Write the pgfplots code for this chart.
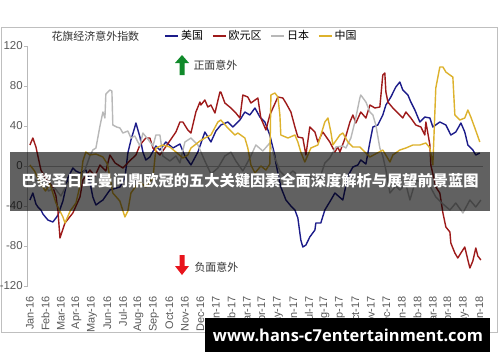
\documentclass[border=0pt]{standalone}
\usepackage{fontspec}
\setmainfont{Liberation Sans}
\newfontfamily\cjk{Noto Sans CJK SC}
\newfontfamily\webfont{Open Sans}
\usepackage{pgfplots}
\pgfplotsset{compat=1.18}
\definecolor{usc}{HTML}{1C1C8A}
\definecolor{euc}{HTML}{9E1A1A}
\definecolor{jpc}{HTML}{B8B8B8}
\definecolor{cnc}{HTML}{DDB22C}
\definecolor{lab}{HTML}{595959}
\definecolor{upg}{HTML}{108A2A}
\definecolor{dnr}{HTML}{E8141C}
\begin{document}
\begin{tikzpicture}[x=1bp,y=1bp]
\path[use as bounding box, fill=white] (0,0) rectangle (500,362);
\draw[gray!50, line width=1bp] (1,30) rectangle (497,335);
\begin{axis}[at={(18,76)}, anchor=south west, scale only axis,
  width=455bp, height=240bp,
  xmin=-0.13, xmax=29.23, ymin=-120, ymax=120,
  axis lines*=left,
  x axis line style={draw=none},
  y axis line style={gray!55, line width=0.8bp},
  ytick={-120,-80,-40,0,40,80,120},
  yticklabels={-120,-80,-40,0,40,80,120},
  yticklabel style={font=\fontsize{11.5}{12}\selectfont, text=lab, inner sep=1bp},
  ytick style={gray!55, line width=0.8bp},
  tick align=outside, major tick length=4bp,
  xtick={0,...,29},
  xticklabels={Jan-16,Feb-16,Mar-16,Apr-16,May-16,Jun-16,Jul-16,Aug-16,Sep-16,Oct-16,Nov-16,Dec-16,Jan-17,Feb-17,Mar-17,Apr-17,May-17,Jun-17,Jul-17,Aug-17,Sep-17,Oct-17,Nov-17,Dec-17,Jan-18,Feb-18,Mar-18,Apr-18,May-18,Jun-18},
  xticklabel style={rotate=90, anchor=east, font=\fontsize{11}{12}\selectfont, text=lab, inner sep=0bp},
  xticklabel shift={6bp},
  x tick style={draw=none},
  legend style={at={(0.30,1.042)}, anchor=west, draw=none, fill=none,
    font=\cjk\fontsize{11}{12}\selectfont, inner sep=0bp,
    /tikz/every even column/.append style={column sep=7bp}},
  legend columns=-1,
  legend image code/.code={\draw[#1, line width=1.6bp] (0bp,0bp) -- (13bp,0bp);},
  every axis plot/.append style={line width=1.4bp, line join=round},
]
\draw[gray!55, line width=0.8bp] (axis cs:-0.13,0) -- (axis cs:29.23,0);
% US
\addplot[usc] coordinates {
(0,-34) (0.19,-27) (0.39,-38) (0.52,-41) (0.71,-44) (0.84,-48) (1.16,-54) (1.48,-56)
(1.68,-52) (1.81,-49) (2.13,-35) (2.45,-12) (2.77,-2) (2.97,-5) (3.23,-7) (3.61,-4)
(3.87,-16) (4.06,-31) (4.26,-39) (4.52,-36) (4.71,-34) (5.16,-24) (5.81,-21) (6.13,-12)
(6.32,13) (6.52,26) (6.77,39) (6.84,43) (7.10,29) (7.29,14) (7.48,6) (7.74,9)
(8.13,20) (8.39,16) (8.77,24) (9.23,18) (9.68,22) (10.0,10) (10.39,1) (10.84,14)
(11.29,34) (11.68,24) (12.0,35) (12.32,41) (12.77,44) (13.10,39) (13.55,46) (13.87,54)
(14.19,51) (14.52,58) (14.84,49) (15.16,44) (15.48,31) (15.81,10) (15.87,3) (16.19,-21)
(16.52,-34) (16.84,-40) (17.10,-44) (17.29,-52) (17.48,-74) (17.61,-81) (17.81,-79) (18.06,-71)
(18.39,-64) (18.45,-57) (18.77,-57) (19.03,-44) (19.42,-34) (19.68,-27) (20.19,-34) (20.52,-10)
(20.84,-1) (21.16,1) (21.35,6) (21.68,2) (21.94,24) (22.13,39) (22.45,41) (22.77,51)
(22.97,61) (23.29,69) (23.61,79) (23.87,84) (24.06,76) (24.39,71) (24.58,64) (24.84,56)
(25.16,44) (25.48,49) (25.81,48) (26.0,39) (26.45,44) (26.84,41) (27.16,31) (27.48,34)
(27.81,43) (28.06,34) (28.26,21) (28.58,16) (28.77,11) (29.03,13)
};
\addlegendentry{美国}
% Euro area
\addplot[euc] coordinates {
(0,21) (0.19,28) (0.39,19) (0.71,-4) (1.0,-12) (1.48,-21) (1.68,-30) (1.81,-45)
(1.94,-72) (2.26,-57) (2.77,-47) (3.23,-31) (3.42,-14) (3.87,-4) (4.2,-10) (4.52,1)
(4.9,-5) (5.16,11) (5.5,3) (6.0,-2) (6.5,6) (6.84,11) (7.10,21) (7.48,28)
(7.74,28) (7.94,18) (8.39,11) (8.8,20) (9.42,34) (9.68,44) (9.87,44) (10.19,36)
(10.39,33) (10.71,54) (10.97,64) (11.03,61) (11.29,66) (11.48,59) (11.68,61) (11.94,53)
(12.26,74) (12.32,74) (12.58,63) (12.97,58) (13.29,53) (13.55,48) (13.74,71) (14.06,69)
(14.26,63) (14.71,68) (14.90,48) (15.23,36) (15.48,51) (16.0,69) (16.32,68) (16.52,63)
(16.84,54) (17.10,39) (17.29,29) (17.61,28) (17.81,11) (18.06,39) (18.39,34) (18.58,24)
(18.90,34) (19.35,24) (19.68,14) (19.87,19) (20.0,14) (20.39,30) (20.65,44) (20.84,51)
(21.03,43) (21.35,54) (21.68,48) (21.94,61) (22.26,58) (22.58,59) (22.77,91) (22.90,93)
(22.97,74) (23.10,64) (23.42,58) (23.87,51) (24.06,48) (24.26,54) (24.58,48) (24.90,41)
(25.23,39) (25.48,31) (25.55,44) (25.81,21) (25.87,1) (26.19,-21) (26.45,-27) (26.65,-47)
(26.84,-61) (27.10,-66) (27.16,-77) (27.42,-87) (27.61,-92) (27.81,-87) (28.06,-81) (28.26,-94)
(28.39,-102) (28.58,-95) (28.77,-82) (28.90,-90) (29.10,-94)
};
\addlegendentry{欧元区}
% Japan
\addplot[jpc] coordinates {
(0,-8) (0.4,-15) (0.8,-12) (1.2,-25) (1.6,-22) (2.0,-30) (2.4,-18) (2.8,-10)
(3.2,-14) (3.6,-2) (3.87,10) (4.06,16) (4.26,18) (4.52,40) (4.71,54) (4.84,48)
(4.90,72) (5.16,76) (5.29,75) (5.35,41) (5.6,39) (5.81,38) (6.0,33) (6.32,35)
(6.52,28) (6.77,30) (7.10,20) (7.29,33) (7.6,27) (7.94,20) (8.13,31) (8.39,31)
(8.58,10) (9.03,5) (9.42,10) (9.68,3) (10.0,24) (10.39,28) (10.84,21) (11.29,5)
(11.68,-8) (12.13,-2) (12.58,10) (12.97,14) (13.29,5) (13.74,-5) (14.19,8) (14.58,21)
(15.03,15) (15.48,23) (15.81,8) (16.13,-5) (16.52,-11) (16.97,-5) (17.48,-12) (17.81,-8)
(18.39,-14) (18.71,-12) (19.03,3) (19.35,8) (19.74,19) (20.19,20) (20.39,18) (20.71,28)
(20.97,44) (21.29,68) (21.35,71) (21.68,64) (21.94,54) (22.13,51) (22.32,41) (22.58,18)
(22.77,10) (22.97,-4) (23.23,-27) (23.61,-20) (23.87,-24) (24.26,-18) (24.52,-34) (24.90,-14)
(25.5,-18) (25.81,-20) (26.19,-31) (26.65,-38) (27.10,-44) (27.48,-37) (27.94,-47) (28.39,-34)
(28.77,-41) (29.10,-34)
};
\addlegendentry{日本}
% China
\addplot[cnc] coordinates {
(0,1) (0.3,-5) (0.6,-15) (1.0,-25) (1.3,-18) (1.68,-37) (2.13,-51) (2.26,-57)
(2.6,-45) (2.97,-37) (3.23,-20) (3.42,5) (3.61,14) (3.87,11) (4.26,12) (4.71,9)
(5.0,2) (5.35,-27) (5.8,-35) (6.13,-51) (6.32,-45) (6.52,-27) (6.84,-20) (7.10,-16)
(7.48,-21) (7.94,-12) (8.13,18) (8.58,21) (9.03,19) (9.42,14) (9.87,8) (10.19,11)
(10.39,18) (10.97,25) (11.29,28) (11.68,31) (12.13,44) (12.32,46) (12.77,38) (13.23,31)
(13.42,33) (13.87,28) (14.06,18) (14.26,1) (14.52,-7) (14.9,0) (15.23,-4) (15.48,2)
(15.55,71) (15.81,73) (16.0,69) (16.13,51) (16.19,31) (16.65,28) (17.10,31) (17.29,24)
(17.48,14) (17.74,4) (18.13,18) (18.58,21) (19.03,44) (19.23,48) (19.42,34) (19.55,21)
(20.0,31) (20.19,33) (20.52,24) (20.84,19) (21.29,19) (21.94,9) (22.77,16) (23.23,4)
(23.42,11) (23.87,16) (24.26,18) (24.71,21) (25.16,21) (25.55,23) (25.81,18) (26.0,1)
(26.19,78) (26.45,99) (26.65,99) (26.84,94) (27.10,91) (27.29,89) (27.42,51) (27.74,46)
(28.06,48) (28.26,56) (28.45,49) (28.71,38) (29.03,24)
};
\addlegendentry{中国}
\end{axis}
% title
\node[anchor=west, font=\cjk\fontsize{11}{12}\selectfont, text=black!80] at (48,326) {花旗经济意外指数};
% arrows
\fill[upg] (179.5,287) -- (184.5,287) -- (184.5,299) -- (189,299) -- (182,307) -- (175,299) -- (179.5,299) -- cycle;
\node[anchor=west, font=\cjk\fontsize{11}{12}\selectfont, text=black!80] at (190,297) {正面意外};
\fill[dnr] (179.5,107) -- (184.5,107) -- (184.5,96) -- (189,96) -- (182,87) -- (175,96) -- (179.5,96) -- cycle;
\node[anchor=west, font=\cjk\fontsize{11}{12}\selectfont, text=black!80] at (191,95) {负面意外};
% overlay banners
\fill[black, opacity=0.62] (10,151) rectangle (490,210);
\node[text=white, font=\cjk\bfseries\fontsize{15.3}{16}\selectfont] at (250,181) {巴黎圣日耳曼问鼎欧冠的五大关键因素全面深度解析与展望前景蓝图};
\fill[black] (205,10) rectangle (490,44);
\node[text=white, font=\webfont\bfseries\fontsize{16.5}{18}\selectfont] at (348,27) {www.hans-c7entertainment.com};
\end{tikzpicture}
\end{document}
